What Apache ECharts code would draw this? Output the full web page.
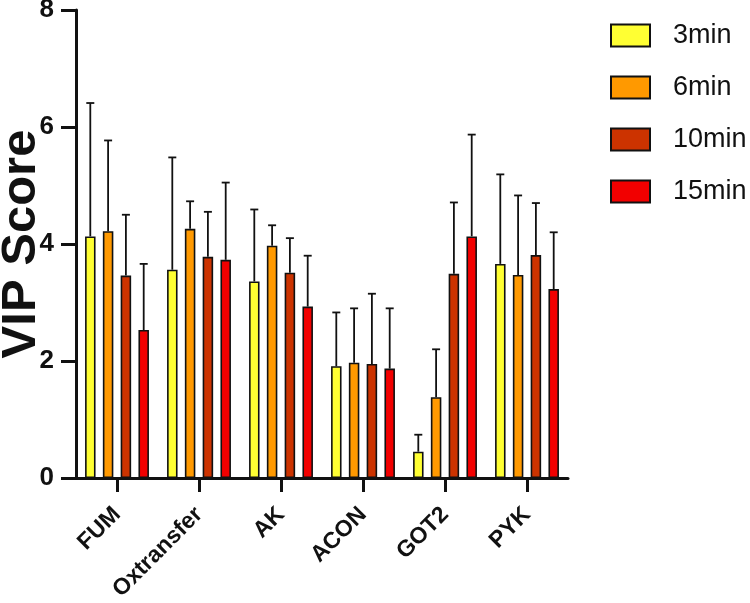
<!DOCTYPE html>
<html>
<head>
<meta charset="utf-8">
<script src="https://cdn.jsdelivr.net/npm/echarts@6/dist/echarts.min.js"></script>
<style>html,body{margin:0;padding:0;background:#fff}#c{width:750px;height:603px}</style>
</head>
<body>
<div id="c"></div>
<script>
const categories = ['FUM', 'Oxtransfer', 'AK', 'ACON', 'GOT2', 'PYK'];
const seriesNames = ['3min', '6min', '10min', '15min'];
const v3  = [4.13, 3.56, 3.36, 1.91, 0.45, 3.66];
const v6  = [4.22, 4.26, 3.97, 1.97, 1.38, 3.47];
const v10 = [3.46, 3.78, 3.51, 1.95, 3.49, 3.81];
const v15 = [2.53, 3.73, 2.93, 1.87, 4.13, 3.23];
const e3  = [2.28, 1.92, 1.23, 0.92, 0.29, 1.53];
const e6  = [1.55, 0.47, 0.35, 0.93, 0.82, 1.36];
const e10 = [1.04, 0.77, 0.59, 1.20, 1.22, 0.89];
const e15 = [1.13, 1.32, 0.87, 1.03, 1.74, 0.97];
const yTicks = [0, 2, 4, 6, 8];

const values = [v3, v6, v10, v15];
const errors = [e3, e6, e10, e15];
const colors = ['#FFFF33', '#FF9900', '#CC3300', '#F20000'];

const BAR_W = 10.5;
const BAR_GAP_PX = 7.3;
const STEP = BAR_W + BAR_GAP_PX;
const FONT = 'Liberation Sans, Arial, Helvetica, sans-serif';

const chart = echarts.init(document.getElementById('c'), null, {renderer: 'canvas'});

const barSeries = seriesNames.map((name, i) => ({
  name: name,
  type: 'bar',
  data: values[i],
  barWidth: BAR_W,
  barGap: (BAR_GAP_PX / BAR_W * 100).toFixed(1) + '%',
  itemStyle: {color: colors[i], borderColor: '#111', borderWidth: 1.6},
  z: 2
}));

const errSeries = seriesNames.map((name, i) => ({
  name: name + ' err',
  type: 'custom',
  data: values[i].map((v, k) => [k, v, errors[i][k]]),
  encode: {x: 0, y: [1]},
  z: 3,
  silent: true,
  renderItem: function (params, api) {
    const k = api.value(0), v = api.value(1), e = api.value(2);
    const off = (i - 1.5) * STEP;
    const base = api.coord([k, v]);
    const top = api.coord([k, v + e]);
    const x = base[0] + off;
    const style = {stroke: '#111', lineWidth: 1.8};
    return {
      type: 'group',
      children: [
        {type: 'line', shape: {x1: x, y1: base[1], x2: x, y2: top[1]}, style: style},
        {type: 'line', shape: {x1: x - 4, y1: top[1], x2: x + 4, y2: top[1]}, style: style}
      ]
    };
  }
}));

chart.setOption({
  animation: false,
  backgroundColor: '#fff',
  grid: {left: 76, right: 182, top: 10, bottom: 125, containLabel: false, outerBoundsMode: 'none'},
  legend: {
    data: seriesNames,
    orient: 'vertical',
    left: 610,
    top: 22,
    padding: 0,
    itemWidth: 39,
    itemHeight: 22,
    itemGap: 25,
    icon: 'rect',
    textStyle: {fontFamily: FONT, fontSize: 27, color: '#111', padding: [0, 0, 0, 18], lineHeight: 22}
  },
  xAxis: {
    type: 'category',
    data: categories,
    axisLine: {lineStyle: {color: '#111', width: 3}},
    axisTick: {show: true, alignWithLabel: true, length: 14, lineStyle: {color: '#111', width: 3}},
    axisLabel: {rotate: 45, margin: 33, fontFamily: FONT, fontWeight: 'bold', fontSize: 23, color: '#111', interval: 0},
    splitLine: {show: false}
  },
  yAxis: {
    type: 'value',
    min: yTicks[0],
    max: yTicks[yTicks.length - 1],
    interval: 2,
    name: 'VIP Score',
    nameLocation: 'middle',
    nameGap: 30,
    nameMoveOverlap: false,
    nameTextStyle: {fontFamily: FONT, fontWeight: 'bold', fontSize: 49, color: '#111'},
    axisLine: {show: true, lineStyle: {color: '#111', width: 3}},
    axisTick: {show: true, length: 15, lineStyle: {color: '#111', width: 3}},
    axisLabel: {margin: 22, fontFamily: FONT, fontWeight: 'bold', fontSize: 26, color: '#111'},
    splitLine: {show: false}
  },
  series: barSeries.concat(errSeries)
});
</script>
</body>
</html>
